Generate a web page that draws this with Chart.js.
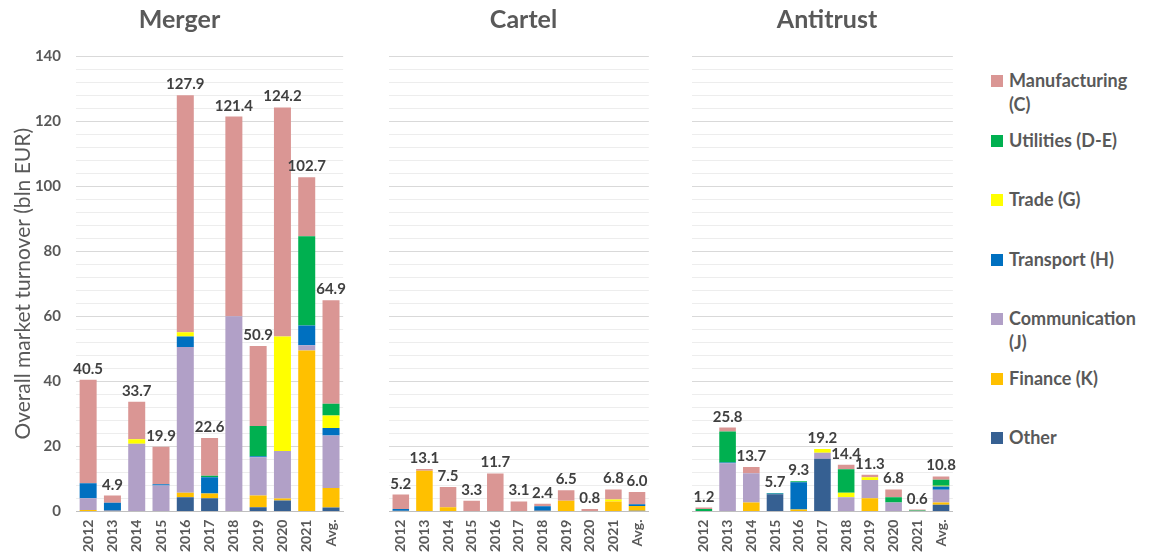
<!DOCTYPE html>
<html>
<head>
<meta charset="utf-8">
<title>Market turnover by sector</title>
<script src="https://cdn.jsdelivr.net/npm/chart.js@4.4.0/dist/chart.umd.min.js"></script>
<style>
    body { margin: 0; background: #fff; width: 1152px; height: 558px; position: relative; overflow: hidden; font-family: Lato, "Liberation Sans", Arial, sans-serif; }
    canvas { position: absolute; top: 0; }
    #legend { position: absolute; left: 991px; top: 68px; width: 160px; }
    .item { position: absolute; left: 0; width: 160px; color: #595959; font-weight: bold; font-size: 18px; line-height: 24px; }
    .item span.box { position: absolute; left: 0; top: 7px; width: 12px; height: 12px; }
    .item span.txt { display: block; margin-left: 18px; }
</style>
</head>
<body>

<canvas id="mergerChart" width="356" height="568" style="left:0px"></canvas>
<canvas id="cartelChart" width="277" height="568" style="left:385px"></canvas>
<canvas id="antitrustChart" width="278" height="568" style="left:688px"></canvas>
<div id="legend"></div>

<script>
// years on the x axis, last column is the average over the period
var years = ['2012', '2013', '2014', '2015', '2016', '2017', '2018', '2019', '2020', '2021', 'Avg.'];

// sectors, listed bottom of the stack first
var sectors = ['Other', 'Finance (K)', 'Communication (J)', 'Transport (H)', 'Trade (G)', 'Utilities (D-E)', 'Manufacturing (C)'];
var sectorColors = ['#366092', '#FFC000', '#B1A0C7', '#0070C0', '#FFFF00', '#00B050', '#DA9694'];

// y axis ticks (bln EUR)
var yMin = 0;
var yMax = 140;
var yStep = 4;
var yLabelEvery = 20;

// MERGER (bln EUR per sector)
var mergerOther         = [0,    0.3, 0,    0,    4.4,  4.1,  0,    1.3,  3.4,  0,    1.2];
var mergerFinance       = [0.5,  0,   0,    0,    1.4,  1.4,  0,    3.6,  0.6,  49.5, 6.0];
var mergerCommunication = [3.6,  0.1, 20.8, 8.0,  44.8, 0,    60.0, 11.8, 14.6, 1.6,  16.2];
var mergerTransport     = [4.6,  2.3, 0,    0.4,  3.2,  5.0,  0,    0.3,  0,    6.1,  2.3];
var mergerTrade         = [0,    0,   1.4,  0,    1.3,  0,    0,    0,    35.2, 0,    3.8];
var mergerUtilities     = [0,    0,   0,    0,    0,    0.5,  0,    9.3,  0,    27.4, 3.6];
var mergerManufacturing = [31.8, 2.2, 11.5, 11.5, 72.8, 11.6, 61.4, 24.6, 70.4, 18.1, 31.8];

// CARTEL
var cartelOther         = [0.2, 0,    0,   0,   0,    0,   0.3, 0,   0,   0,   0.2];
var cartelFinance       = [0,   12.5, 1.3, 0,   0,    0,   0,   3.3, 0,   3.1, 1.5];
var cartelCommunication = [0,   0,    0,   0,   0,    0,   0,   0,   0,   0,   0];
var cartelTransport     = [0.6, 0,    0,   0,   0,    0,   1.3, 0,   0,   0,   0.5];
var cartelTrade         = [0,   0,    0,   0,   0,    0,   0,   0,   0,   0.6, 0];
var cartelUtilities     = [0,   0,    0,   0,   0,    0,   0,   0,   0,   0,   0];
var cartelManufacturing = [4.4, 0.6,  6.2, 3.3, 11.7, 3.1, 0.8, 3.2, 0.8, 3.1, 3.8];

// ANTITRUST
var antitrustOther         = [0,   0,    0,   5.3, 0,   16.2, 0,   0,   0,   0,   2.1];
var antitrustFinance       = [0,   0,    2.8, 0,   0.6, 0,    0,   4.1, 0,   0,   0.7];
var antitrustCommunication = [0,   14.8, 9.0, 0,   0,   1.9,  4.4, 5.6, 2.8, 0,   3.9];
var antitrustTransport     = [0,   0.3,  0,   0.2, 8.4, 0,    0,   0,   0,   0,   1.0];
var antitrustTrade         = [0,   0,    0,   0,   0,   1.1,  1.4, 0.8, 0,   0,   0.2];
var antitrustUtilities     = [0.8, 9.5,  0,   0.2, 0.3, 0,    7.2, 0,   1.6, 0.3, 1.9];
var antitrustManufacturing = [0.4, 1.2,  1.9, 0,   0,   0,    1.4, 0.8, 2.4, 0.3, 1.0];


Chart.defaults.font.family = 'Lato, "Liberation Sans", Arial, sans-serif';
Chart.defaults.color = '#595959';

// writes the stack total above each column
var totalLabels = {
    id: 'totalLabels',
    afterDatasetsDraw: function (chart) {
        var ctx = chart.ctx;
        var x = chart.scales.x;
        var y = chart.scales.y;
        ctx.save();
        ctx.font = 'bold 15px Lato, "Liberation Sans", Arial, sans-serif';
        ctx.fillStyle = '#404040';
        ctx.textAlign = 'center';
        ctx.textBaseline = 'alphabetic';
        chart.data.labels.forEach(function (label, i) {
            var sum = 0;
            chart.data.datasets.forEach(function (ds) { sum += ds.data[i]; });
            ctx.fillText(sum.toFixed(1), x.getPixelForValue(i), y.getPixelForValue(sum) - 6);
        });
        ctx.restore();
    }
};

function makeDatasets(series) {
    return series.map(function (values, i) {
        return {
            label: sectors[i],
            data: values,
            backgroundColor: sectorColors[i],
            borderWidth: 0,
            barPercentage: 0.7,
            categoryPercentage: 1.0
        };
    });
}

function makeChart(id, title, series, showAxis) {
    var ctx = document.getElementById(id).getContext('2d');
    return new Chart(ctx, {
        type: 'bar',
        data: {
            labels: years,
            datasets: makeDatasets(series)
        },
        options: {
            responsive: false,
            animation: false,
            layout: {
                padding: { left: showAxis ? 7 : 4, right: 4, bottom: 8, top: 0 }
            },
            plugins: {
                legend: { display: false },
                tooltip: { enabled: false },
                title: {
                    display: true,
                    text: title,
                    color: '#595959',
                    font: { size: 25, weight: 'bold' },
                    padding: { top: 5, bottom: 21 }
                }
            },
            scales: {
                x: {
                    stacked: true,
                    grid: { display: false, drawTicks: false },
                    border: { color: '#BFBFBF', width: 1 },
                    ticks: {
                        minRotation: 90,
                        maxRotation: 90,
                        padding: 8,
                        color: '#595959',
                        font: { size: 14, weight: 'bold' }
                    }
                },
                y: {
                    stacked: true,
                    min: yMin,
                    max: yMax,
                    border: { display: false },
                    afterFit: function (scale) {
                        // fixed width so the plot areas line up
                        scale.width = showAxis ? 69 : 0;
                    },
                    grid: {
                        drawTicks: false,
                        color: function (c) {
                            return c.tick.value % yLabelEvery === 0 ? '#D9D9D9' : '#EDEDED';
                        }
                    },
                    ticks: {
                        display: showAxis,
                        autoSkip: false,
                        stepSize: yStep,
                        padding: 15,
                        color: '#595959',
                        font: { size: 15, weight: 'bold' },
                        callback: function (value) {
                            return value % yLabelEvery === 0 ? value : '';
                        }
                    },
                    title: {
                        display: showAxis,
                        text: 'Overall market turnover (bln EUR)',
                        color: '#595959',
                        font: { size: 21 }
                    }
                }
            }
        },
        plugins: [totalLabels]
    });
}

var mergerChart = makeChart('mergerChart', 'Merger',
    [mergerOther, mergerFinance, mergerCommunication, mergerTransport, mergerTrade, mergerUtilities, mergerManufacturing], true);

var cartelChart = makeChart('cartelChart', 'Cartel',
    [cartelOther, cartelFinance, cartelCommunication, cartelTransport, cartelTrade, cartelUtilities, cartelManufacturing], false);

var antitrustChart = makeChart('antitrustChart', 'Antitrust',
    [antitrustOther, antitrustFinance, antitrustCommunication, antitrustTransport, antitrustTrade, antitrustUtilities, antitrustManufacturing], false);


// LEGEND - top item is the top of the stack
var legend = document.getElementById('legend');
var legendStep = 59.5;
for (var i = sectors.length - 1; i >= 0; i--) {
    var row = sectors.length - 1 - i;
    var item = document.createElement('div');
    item.className = 'item';
    item.style.top = (row * legendStep) + 'px';
    var box = document.createElement('span');
    box.className = 'box';
    box.style.background = sectorColors[i];
    var txt = document.createElement('span');
    txt.className = 'txt';
    txt.textContent = sectors[i];
    if (sectors[i].length > 16) txt.style.width = '135px';
    item.appendChild(box);
    item.appendChild(txt);
    legend.appendChild(item);
}
</script>
</body>
</html>
